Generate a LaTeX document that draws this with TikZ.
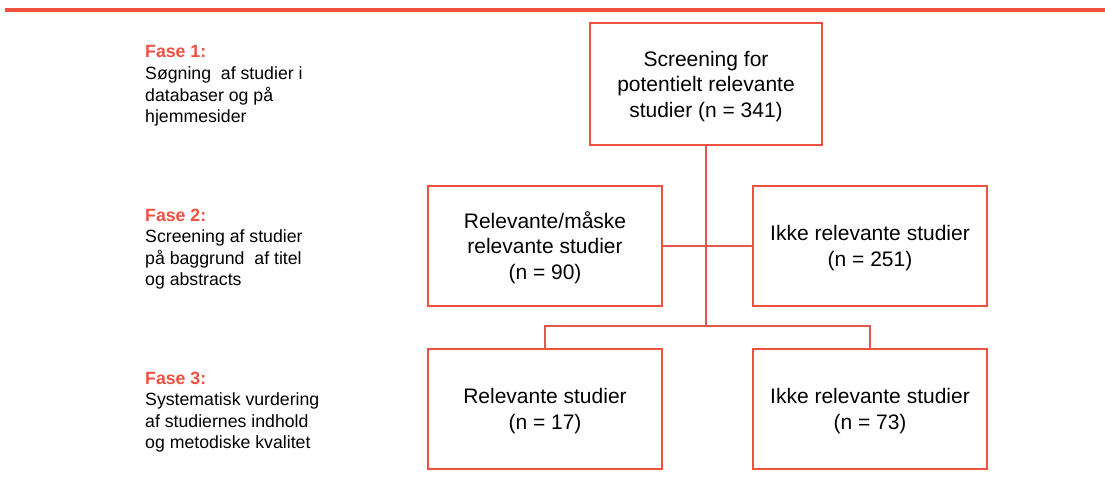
\documentclass[tikz,border=0pt]{standalone}
\usepackage{fontspec}
\setmainfont{Liberation Sans}
\definecolor{accent}{RGB}{240,80,64}
\definecolor{conn}{RGB}{222,88,76}
\newcommand{\boxtext}[1]{\raisebox{-2.5pt}[\height][\depth]{\begin{tabular}{@{}c@{}}#1\end{tabular}}}
\begin{document}
\begin{tikzpicture}[x=1pt,y=-1pt,
  box/.style={draw=accent,line width=2.5pt,minimum width=232pt,minimum height=120pt,
    align=center,inner sep=0pt,font=\fontsize{21}{25.5}\selectfont},
  conline/.style={draw=conn,line width=1.5pt},
  phase/.style={anchor=north west,align=left,inner sep=0pt,
    font=\fontsize{17.7}{21.6}\selectfont}]
\useasboundingbox (0,0) rectangle (1105,480);
\fill[accent] (5,8) rectangle (1105,12);

\node[box,minimum height=122pt] (top) at (706,84) {\boxtext{Screening for\\potentielt relevante\\studier (n = 341)}};
\node[box,minimum width=234pt] (ml) at (545,246) {\boxtext{Relevante/måske\\relevante studier\\(n = 90)}};
\node[box,minimum width=234pt] (mr) at (870,246) {\boxtext{Ikke relevante studier\\(n = 251)}};
\node[box,minimum width=234pt] (bl) at (545,409) {\boxtext{Relevante studier\\(n = 17)}};
\node[box,minimum width=234pt] (br) at (870,409) {\boxtext{Ikke relevante studier\\(n = 73)}};

\coordinate (j1) at (706,326);
\draw[conline] (top.south) -- (j1);
\draw[conline] (ml.east) -- (mr.west);
\draw[conline] (bl.north) |- (j1) -| (br.north);

\node[phase] (f1) at (145,45.5) {\textcolor{accent}{\bfseries Fase 1:}\\Søgning\ \ af studier i\\databaser og på\\hjemmesider};
\node[phase] (f2) at (145,208.5) {\textcolor{accent}{\bfseries Fase 2:}\\Screening af studier\\på baggrund\ \ af titel\\og abstracts};
\node[phase] (f3) at (145,371.5) {\textcolor{accent}{\bfseries Fase 3:}\\Systematisk vurdering\\af studiernes indhold\\og metodiske kvalitet};
\end{tikzpicture}
\end{document}
